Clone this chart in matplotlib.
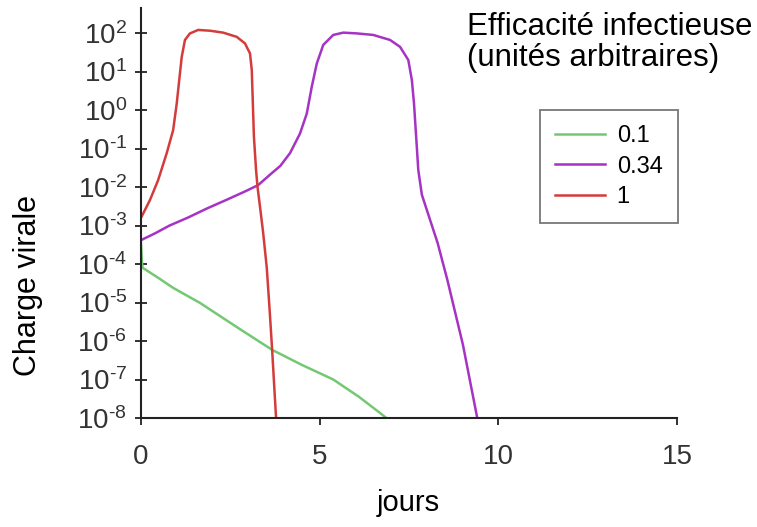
import numpy as np
import matplotlib
matplotlib.use('Agg')
import matplotlib.pyplot as plt

# valeurs (log10 de la charge virale)
jours_01 = [0.0, 0.03, 0.05, 0.5, 0.9, 1.65, 2.7, 3.67, 4.5, 5.38, 6.1, 6.69, 7.0]
log_01 = [-3.45, -4.0, -4.1, -4.37, -4.62, -5.01, -5.65, -6.23, -6.62, -7.0, -7.45, -7.87, -8.1]

jours_034 = [0.0, 0.4, 0.8, 1.3, 1.84, 2.4, 2.9, 3.28, 3.61, 3.9, 4.17, 4.45, 4.64,
             4.78, 4.92, 5.1, 5.38, 5.66, 6.04, 6.5, 6.97, 7.25, 7.48, 7.58, 7.64,
             7.7, 7.76, 7.86, 8.0, 8.3, 8.57, 9.01, 9.41, 9.45]
log_034 = [-3.38, -3.2, -3.0, -2.8, -2.56, -2.33, -2.12, -1.95, -1.68, -1.45, -1.12, -0.61, -0.09,
           0.61, 1.21, 1.69, 1.95, 2.01, 1.99, 1.95, 1.82, 1.64, 1.3, 0.78, 0.17,
           -0.69, -1.56, -2.2, -2.6, -3.45, -4.4, -6.1, -8.0, -8.2]

jours_1 = [0.0, 0.25, 0.48, 0.72, 0.9, 1.0, 1.07, 1.14, 1.23, 1.37, 1.6, 1.93, 2.3,
           2.68, 2.91, 3.05, 3.1, 3.13, 3.16, 3.22, 3.26, 3.33, 3.42, 3.52, 3.6,
           3.67, 3.73, 3.78, 3.79]
log_1 = [-2.8, -2.34, -1.82, -1.12, -0.52, 0.17, 0.78, 1.38, 1.82, 1.99, 2.08, 2.06, 2.01,
         1.9, 1.73, 1.47, 1.04, 0.17, -0.69, -1.56, -1.99, -2.51, -3.2, -4.1, -5.2,
         -6.23, -7.2, -8.0, -8.2]

labels = ['0.1', '0.34', '1']
couleurs = ['#74c874', '#a633c4', '#d43c3c']
xticks = [0, 5, 10, 15]
yexp = list(range(-8, 3))
ylabels = [r'$10^{\text{%d}}$' % e for e in yexp]

plt.rcParams['font.family'] = ['Liberation Sans', 'DejaVu Sans']
plt.rcParams['mathtext.fontset'] = 'custom'
plt.rcParams['mathtext.rm'] = 'Liberation Sans'
plt.rcParams['mathtext.it'] = 'Liberation Sans'
plt.rcParams['mathtext.default'] = 'rm'

fig = plt.figure(figsize=(7.57, 5.27), dpi=100)
ax = fig.add_axes([141 / 757, 1 - 418 / 527, 536 / 757, 410 / 527])

series = [(jours_01, log_01), (jours_034, log_034), (jours_1, log_1)]
for (xs, ls), lab, c in zip(series, labels, couleurs):
    ax.plot(xs, 10 ** np.array(ls), color=c, lw=1.8, label=lab)

ax.set_yscale('log')
ax.set_xlim(0, 15)
ax.set_ylim(1e-8, 10 ** 2.65)
ax.set_xticks(xticks)
ax.set_xticklabels([str(t) for t in xticks])
ax.set_yticks([10.0 ** e for e in yexp])
ax.set_yticklabels(ylabels)
ax.yaxis.set_minor_locator(matplotlib.ticker.NullLocator())
for s in ['top', 'right']:
    ax.spines[s].set_visible(False)
for s in ['left', 'bottom']:
    ax.spines[s].set_color('#222222')
    ax.spines[s].set_linewidth(1.5)
ax.tick_params(axis='y', direction='inout', length=8, width=1.3, labelsize=20,
               pad=6, colors='#222222', labelcolor='#333333')
ax.tick_params(axis='x', direction='out', length=5, width=1.3, labelsize=20,
               pad=14, colors='#222222', labelcolor='#333333')

fig.text(28 / 757, 1 - 285 / 527, 'Charge virale', rotation=90, ha='center',
         va='center', fontsize=22)
fig.text(408 / 757, 1 - 503 / 527, 'jours', ha='center', va='center', fontsize=21)
fig.text(467 / 757, 1 - 12 / 527, 'Efficacité infectieuse\n(unités arbitraires)',
         ha='left', va='top', fontsize=22.5, linespacing=1.05)

leg = ax.legend(loc='upper left', bbox_to_anchor=(540 / 757, 1 - 110 / 527),
                bbox_transform=fig.transFigure, fontsize=17, frameon=True,
                fancybox=False, handlelength=2.1, handletextpad=0.5,
                labelspacing=0.35, borderpad=0.65, borderaxespad=0)
leg.get_frame().set_edgecolor('#555555')
leg.get_frame().set_linewidth(1.3)

fig.savefig('out.png', dpi=100)
